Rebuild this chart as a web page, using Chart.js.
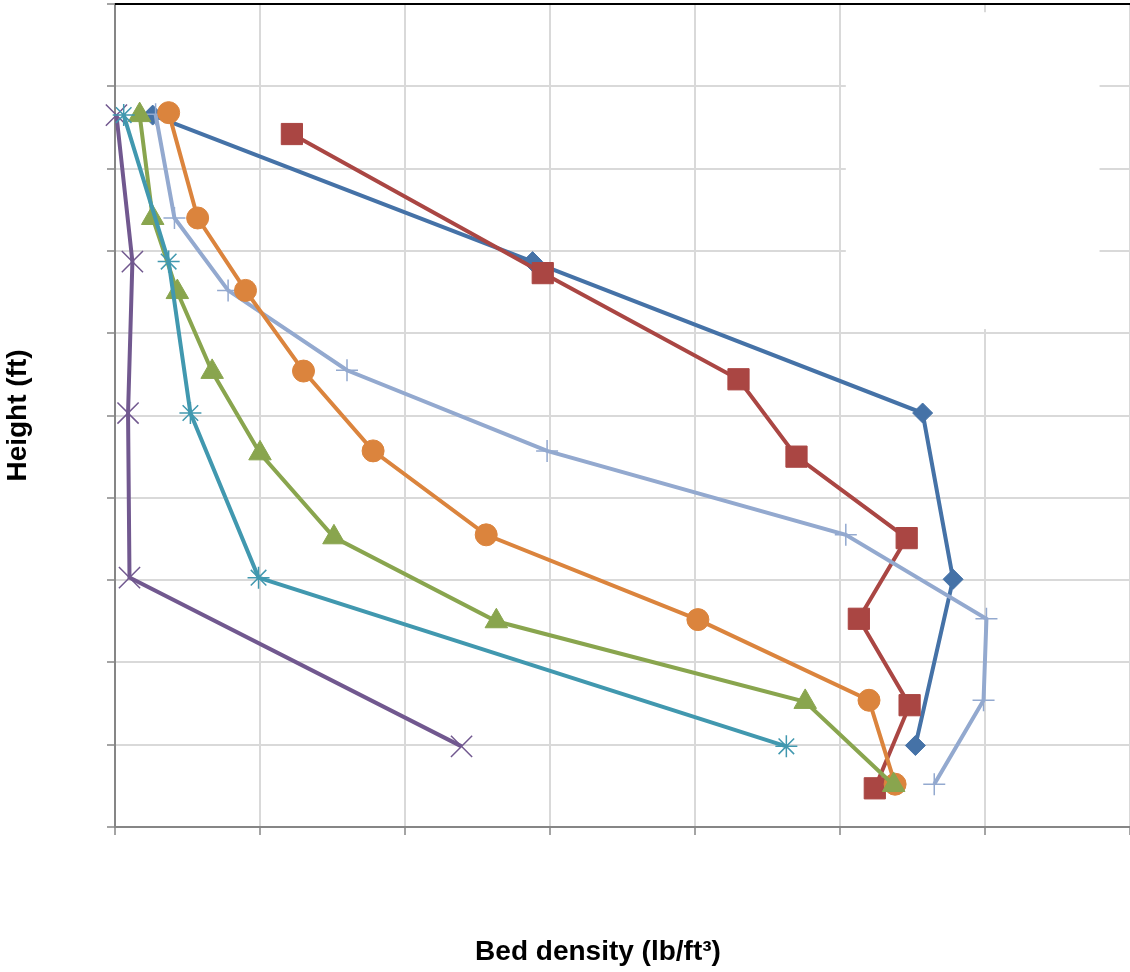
<!DOCTYPE html>
<html>
<head>
<meta charset="utf-8">
<script src="https://cdn.jsdelivr.net/npm/chart.js@4.4.1/dist/chart.umd.min.js"></script>
<style>
  html, body { margin: 0; padding: 0; background: #fff; }
  #wrap { width: 1130px; height: 972px; }
</style>
</head>
<body>
<div id="wrap"><canvas id="densityChart" width="1130" height="972"></canvas></div>
<script>
// density profiles: x = bed density, y = height
const blueDensity   = [0.26, 2.88, 5.57, 5.78, 5.52];
const blueHeight    = [8.65, 6.87, 5.03, 3.01, 0.99];

const redDensity    = [1.22, 2.95, 4.30, 4.70, 5.46, 5.13, 5.48, 5.24];
const redHeight     = [8.42, 6.73, 5.44, 4.50, 3.51, 2.53, 1.48, 0.47];

const greenDensity  = [0.17, 0.26, 0.43, 0.67, 1.00, 1.51, 2.63, 4.76, 5.37];
const greenHeight   = [8.65, 7.40, 6.50, 5.53, 4.54, 3.52, 2.50, 1.52, 0.51];

const purpleDensity = [0.01, 0.12, 0.09, 0.10, 2.39];
const purpleHeight  = [8.65, 6.87, 5.03, 3.03, 0.98];

const tealDensity   = [0.06, 0.37, 0.52, 0.99, 4.63];
const tealHeight    = [8.65, 6.87, 5.03, 3.03, 0.98];

const orangeDensity = [0.37, 0.57, 0.90, 1.30, 1.78, 2.56, 4.02, 5.20, 5.38];
const orangeHeight  = [8.68, 7.40, 6.52, 5.54, 4.57, 3.55, 2.52, 1.54, 0.52];

const skyDensity    = [0.28, 0.41, 0.78, 1.60, 2.98, 5.04, 6.01, 5.99, 5.65];
const skyHeight     = [8.66, 7.40, 6.52, 5.55, 4.57, 3.55, 2.53, 1.54, 0.52];

const xTitle = 'Bed density (lb/ft\u00B3)';
const yTitle = 'Height (ft)';

// empty legend panel of the original hides part of the grid (axis units)
const blankBox = { x0: 5.04, x1: 6.79, y0: 6.05, y1: 9.9 };

function pts(xs, ys) {
    return xs.map((v, i) => ({ x: v, y: ys[i] }));
}

function series(label, xs, ys, color, style, radius, order) {
    const hollow = style === 'cross' || style === 'crossRot' || style === 'star';
    return {
        label: label,
        data: pts(xs, ys),
        borderColor: color,
        backgroundColor: color,
        borderWidth: 4,
        pointStyle: style,
        pointRadius: radius,
        pointHoverRadius: radius,
        pointBackgroundColor: color,
        pointBorderColor: color,
        pointBorderWidth: hollow ? 1.5 : 1,
        tension: 0,
        clip: false,
        order: order
    };
}

const frameBits = {
    id: 'frameBits',
    beforeDatasetsDraw(chart) {
        const { ctx, chartArea: a, scales: { x, y } } = chart;
        ctx.save();
        const l = x.getPixelForValue(blankBox.x0), r = x.getPixelForValue(blankBox.x1);
        const t = y.getPixelForValue(blankBox.y1), b = y.getPixelForValue(blankBox.y0);
        ctx.fillStyle = '#ffffff';
        ctx.fillRect(l, t, r - l, b - t);
        ctx.strokeStyle = '#000000';
        ctx.lineWidth = 2;
        ctx.beginPath();
        ctx.moveTo(a.left, a.top);
        ctx.lineTo(a.right, a.top);
        ctx.stroke();
        ctx.restore();
    },
    afterDraw(chart) {
        const { ctx } = chart;
        ctx.save();
        ctx.font = 'bold 28px "Liberation Sans", Arial, sans-serif';
        ctx.fillStyle = '#000000';
        ctx.textAlign = 'center';
        ctx.textBaseline = 'middle';
        ctx.fillText(xTitle, 598, 952);
        ctx.restore();
    }
};

const ctx = document.getElementById('densityChart').getContext('2d');
new Chart(ctx, {
    type: 'line',
    data: {
        datasets: [
            series('Profile 1', blueDensity, blueHeight, '#4572A7', 'rectRot', 10, 7),
            series('Profile 2', redDensity, redHeight, '#AA4643', 'rect', 15, 6),
            series('Profile 3', greenDensity, greenHeight, '#89A54E', 'triangle', 13, 3),
            series('Profile 4', purpleDensity, purpleHeight, '#71588F', 'crossRot', 15, 2),
            series('Profile 5', tealDensity, tealHeight, '#4198AF', 'star', 11, 1),
            series('Profile 6', orangeDensity, orangeHeight, '#DB843D', 'circle', 11, 4),
            series('Profile 7', skyDensity, skyHeight, '#93A9CF', 'cross', 11, 5)
        ]
    },
    options: {
        responsive: false,
        animation: false,
        layout: { autoPadding: false, padding: { left: 0, right: 0, top: 4, bottom: 137 } },
        plugins: { legend: { display: false }, tooltip: { enabled: false } },
        scales: {
            x: {
                type: 'linear',
                min: 0,
                max: 7,
                ticks: { display: false, stepSize: 1 },
                grid: { color: '#d9d9d9', lineWidth: 2, tickLength: 8, tickColor: '#868686', tickWidth: 1.5 },
                border: { color: '#868686', width: 2 }
            },
            y: {
                type: 'linear',
                min: 0,
                max: 10,
                ticks: { display: false, stepSize: 1 },
                grid: { color: '#d9d9d9', lineWidth: 2, tickLength: 8, tickColor: '#868686', tickWidth: 1.5 },
                border: { color: '#868686', width: 2 },
                title: {
                    display: true,
                    text: yTitle,
                    color: '#000000',
                    font: { family: '"Liberation Sans", Arial, sans-serif', size: 28, weight: 'bold' },
                    padding: { top: 1.2, bottom: 72.2 }
                }
            }
        }
    },
    plugins: [frameBits]
});
</script>
</body>
</html>
